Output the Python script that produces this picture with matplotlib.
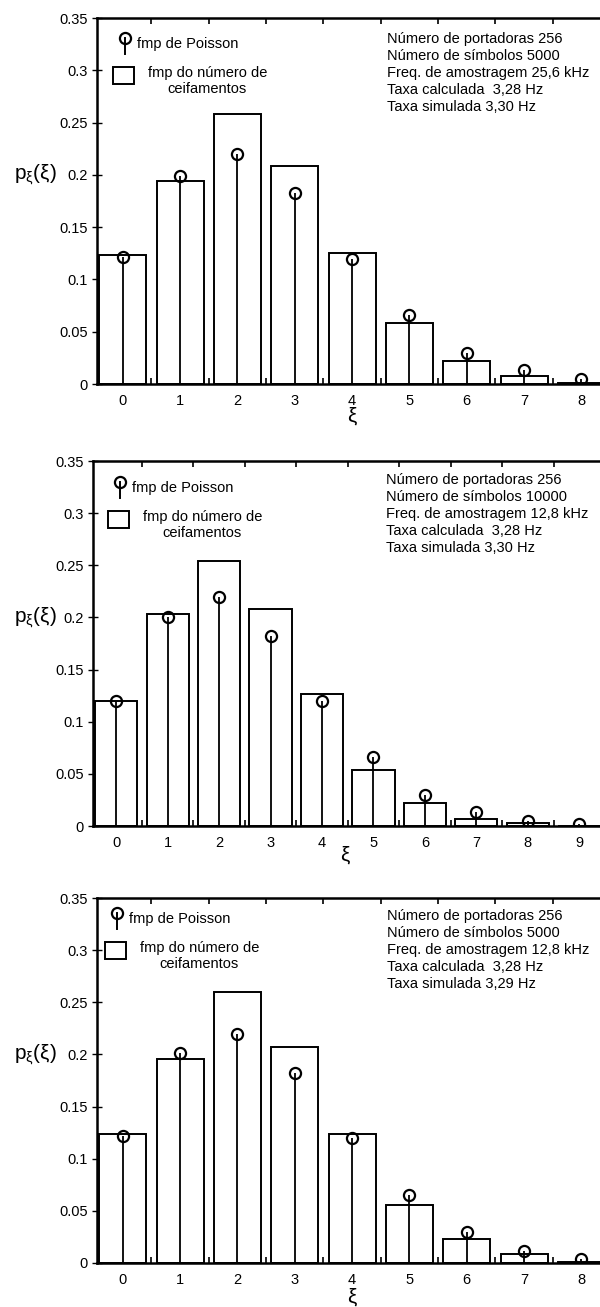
import matplotlib
matplotlib.use("Agg")
import matplotlib.pyplot as plt
import matplotlib.patches as mpatches
import matplotlib.transforms as mtransforms
import numpy as np

plt.rcParams['font.family'] = ['Liberation Sans', 'DejaVu Sans']
plt.rcParams['mathtext.fontset'] = 'custom'
plt.rcParams['mathtext.rm'] = 'Liberation Sans'
plt.rcParams['mathtext.it'] = 'Liberation Sans'

# ---------------- data ----------------
xi_1 = [0, 1, 2, 3, 4, 5, 6, 7, 8]
clip_counts_1 = [0.123, 0.194, 0.258, 0.208, 0.125, 0.058, 0.022, 0.008, 0.0013]
poisson_1 = [0.121, 0.199, 0.220, 0.183, 0.120, 0.066, 0.030, 0.013, 0.0045]
info_1 = ["Número de portadoras 256", "Número de símbolos 5000",
          "Freq. de amostragem 25,6 kHz", "Taxa calculada  3,28 Hz",
          "Taxa simulada 3,30 Hz"]

xi_2 = [0, 1, 2, 3, 4, 5, 6, 7, 8, 9]
clip_counts_2 = [0.120, 0.203, 0.254, 0.208, 0.127, 0.054, 0.022, 0.0064, 0.0026, 0.0003]
poisson_2 = [0.120, 0.200, 0.220, 0.182, 0.120, 0.066, 0.030, 0.013, 0.0048, 0.0016]
info_2 = ["Número de portadoras 256", "Número de símbolos 10000",
          "Freq. de amostragem 12,8 kHz", "Taxa calculada  3,28 Hz",
          "Taxa simulada 3,30 Hz"]

xi_3 = [0, 1, 2, 3, 4, 5, 6, 7, 8]
clip_counts_3 = [0.124, 0.196, 0.260, 0.207, 0.124, 0.056, 0.023, 0.0086, 0.0013]
poisson_3 = [0.122, 0.201, 0.220, 0.182, 0.120, 0.065, 0.030, 0.0115, 0.0038]
info_3 = ["Número de portadoras 256", "Número de símbolos 5000",
          "Freq. de amostragem 12,8 kHz", "Taxa calculada  3,28 Hz",
          "Taxa simulada 3,29 Hz"]

y_ticks = [0, 0.05, 0.1, 0.15, 0.2, 0.25, 0.3, 0.35]
y_ticklabels = ["0", "0.05", "0.1", "0.15", "0.2", "0.25", "0.3", "0.35"]
legend_poisson = "fmp de Poisson"
legend_bars_1 = "fmp do número de"
legend_bars_2 = "ceifamentos"

# ---------------- layout ----------------
FW, FH = 600, 1307
fig = plt.figure(figsize=(FW / 100, FH / 100), dpi=100)

panels = [
    dict(xi=xi_1, bars=clip_counts_1, pois=poisson_1, info=info_1,
         box=(97, 18, 610, 384), xlim=(-0.45, 8.5), xlab=(4.0, 32),
         leg=(28, 20), info_xy=(387, 21)),
    dict(xi=xi_2, bars=clip_counts_2, pois=poisson_2, info=info_2,
         box=(93, 461, 605, 826), xlim=(-0.45, 9.5), xlab=(4.45, 29),
         leg=(27, 21), info_xy=(386, 19)),
    dict(xi=xi_3, bars=clip_counts_3, pois=poisson_3, info=info_3,
         box=(97, 898, 610, 1263), xlim=(-0.45, 8.5), xlab=(4.0, 34),
         leg=(20, 15), info_xy=(387, 18)),
]

for p in panels:
    l, t, r, b = p['box']
    W, H = r - l, b - t
    ax = fig.add_axes([l / FW, 1 - b / FH, W / FW, H / FH])

    def axfrac(dx, dy, W=W, H=H):
        return dx / W, 1 - dy / H

    ax.bar(p['xi'], p['bars'], width=0.82, color='white', edgecolor='black',
           linewidth=1.4, zorder=2)
    ml, sl, bl = ax.stem(p['xi'], p['pois'], linefmt='k-', markerfmt='ko',
                         basefmt=' ')
    plt.setp(sl, linewidth=1.3, zorder=3)
    plt.setp(ml, markersize=8, markerfacecolor='none', markeredgewidth=1.6,
             zorder=4)

    ax.set_xlim(*p['xlim'])
    ax.set_ylim(0, 0.35)
    ax.set_yticks(y_ticks)
    ax.set_yticklabels(y_ticklabels)
    # tick marks at half-integers, labels at integers
    nmax = len(p['xi'])
    ax.set_xticks(np.arange(0.5, nmax - 0.4, 1.0))
    ax.set_xticklabels([])
    ax.set_xticks(p['xi'], minor=True)
    ax.set_xticklabels([str(v) for v in p['xi']], minor=True)
    ax.tick_params(axis='x', which='major', direction='in', length=4.5,
                   width=1.2, top=True, bottom=True)
    ax.tick_params(axis='x', which='minor', length=0, pad=7, labelsize=10.5)
    ax.tick_params(axis='y', which='major', direction='inout', length=7,
                   width=1.0, left=True, right=True, labelsize=10.5, pad=3)
    for s in ax.spines.values():
        s.set_linewidth(1.8)

    # x label
    bt = mtransforms.blended_transform_factory(ax.transData, ax.transAxes)
    ax.text(p['xlab'][0], -p['xlab'][1] / H, r'$\xi$', transform=bt,
            ha='center', va='center', fontsize=15)
    # y label
    yt = mtransforms.blended_transform_factory(fig.transFigure, ax.transData)
    ax.text(14 / FW, 0.2, r'$\mathregular{p_{\xi}(\xi)}$', transform=yt,
            ha='left', va='center', fontsize=15)

    # legend (manual)
    lx, ly = p['leg']
    mx, my = axfrac(lx, ly)
    mx2, my2 = axfrac(lx, ly + 16)
    ax.plot([mx, mx2], [my, my2], color='black', lw=1.4,
            transform=ax.transAxes, clip_on=False)
    ax.plot([mx], [my], marker='o', ms=8, mfc='none', mec='black', mew=1.6,
            transform=ax.transAxes, clip_on=False)
    tx, ty = axfrac(lx + 12, ly + 6)
    ax.text(tx, ty, legend_poisson, transform=ax.transAxes, ha='left',
            va='center', fontsize=10.5)
    rx, ry = axfrac(lx - 12, ly + 46)
    ax.add_patch(mpatches.Rectangle((rx, ry), 21 / W, 17 / H,
                                    transform=ax.transAxes, fill=False,
                                    edgecolor='black', lw=1.4))
    t1x, t1y = axfrac(lx + 23, ly + 35)
    ax.text(t1x, t1y, legend_bars_1, transform=ax.transAxes, ha='left',
            va='center', fontsize=10.5)
    t2x, t2y = axfrac(lx + 82, ly + 51)
    ax.text(t2x, t2y, legend_bars_2, transform=ax.transAxes, ha='center',
            va='center', fontsize=10.5)

    # info text
    ix, iy = p['info_xy']
    for k, line in enumerate(p['info']):
        fx, fy = axfrac(ix - l, iy + 17 * k)
        ax.text(fx, fy, line, transform=ax.transAxes, ha='left', va='center',
                fontsize=10.5)

fig.savefig("out.png", dpi=100, facecolor='white')
